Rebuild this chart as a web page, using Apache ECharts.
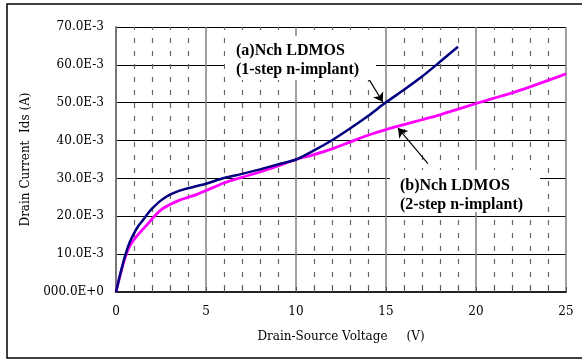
<!DOCTYPE html>
<html>
<head>
<meta charset="utf-8">
<script src="https://cdn.jsdelivr.net/npm/echarts@6/dist/echarts.min.js"></script>
<style>
  html, body { margin: 0; padding: 0; background: #fff; }
  #chart { width: 582px; height: 360px; }
</style>
</head>
<body>
<div id="chart"></div>
<script>
// Drain-source voltage (V) and drain current (mA)
const voltsA = [0, 0.25, 0.5, 0.75, 1, 1.25, 1.5, 1.75, 2, 2.5, 3, 3.5, 4, 4.5, 5, 6, 7, 8, 9, 10, 11, 12, 13, 14, 15, 16, 17, 18, 19];
const currentA = [0, 5, 9.5, 13, 15.5, 17.5, 19, 20.6, 22, 24.2, 25.7, 26.7, 27.4, 28, 28.6, 30.1, 31.2, 32.4, 33.7, 35.0, 37.4, 40.1, 43.2, 46.5, 50.1, 53.4, 56.9, 60.8, 64.8];

const voltsB = [0, 0.25, 0.5, 0.75, 1, 1.25, 1.5, 1.75, 2, 2.5, 3, 3.5, 4, 4.5, 5, 6, 7, 8, 9, 10, 11, 12, 13, 14, 15, 16, 17, 18, 19, 20, 21, 22, 23, 24, 25];
const currentB = [0, 4.8, 9, 12, 13.8, 15.3, 16.6, 17.9, 19.3, 21.7, 23.1, 24.2, 25.0, 25.8, 26.8, 28.8, 30.3, 31.7, 33.3, 35.0, 36.3, 37.8, 39.6, 41.4, 42.9, 44.2, 45.5, 46.8, 48.3, 49.8, 51.2, 52.6, 54.2, 55.9, 57.6];

const yTickLabels = ["000.0E+0", "10.0E-3", "20.0E-3", "30.0E-3", "40.0E-3", "50.0E-3", "60.0E-3", "70.0E-3"];

const labelA = "(a)Nch LDMOS\n(1-step n-implant)";
const labelB = "(b)Nch LDMOS\n(2-step n-implant)";
// arrow ends in data units: [tail, head]
const arrowA = [[13.94, 57.1], [14.82, 50.2]];
const arrowB = [[17.33, 33.9], [15.67, 43.3]];

const pairs = (xs, ys) => xs.map((x, i) => [x, ys[i]]);
const serif = "DejaVu Serif";

const chart = echarts.init(document.getElementById("chart"), null, { renderer: "canvas" });

chart.setOption({
  animation: false,
  backgroundColor: "#fff",
  grid: { left: 116, right: 16, top: 27, bottom: 68, containLabel: false },
  xAxis: {
    type: "value",
    min: 0,
    max: 25,
    interval: 5,
    name: "Drain-Source Voltage     (V)",
    nameLocation: "middle",
    nameGap: 39,
    nameTextStyle: { fontFamily: serif, fontSize: 12, color: "#000" },
    axisLine: { lineStyle: { color: "#222", width: 2 } },
    axisTick: { show: true, inside: true, length: 5, lineStyle: { color: "#555" } },
    minorTick: { show: true, splitNumber: 5, length: 5, lineStyle: { color: "#555" } },
    axisLabel: { fontFamily: serif, fontSize: 12, color: "#000", margin: 14 },
    splitLine: { show: true, lineStyle: { color: "#808080", width: 1.5 } },
    minorSplitLine: { show: true, lineStyle: { color: "#666", width: 1.2, type: [5, 8], dashOffset: 2 } }
  },
  yAxis: {
    type: "value",
    min: 0,
    max: 70,
    interval: 10,
    name: "Drain Current  Ids (A)",
    nameLocation: "middle",
    nameGap: 78,
    nameTextStyle: { fontFamily: serif, fontSize: 12, color: "#000" },
    axisLine: { show: true, lineStyle: { color: "#777", width: 2 } },
    axisTick: { show: false },
    axisLabel: {
      fontFamily: serif,
      fontSize: 12,
      color: "#000",
      margin: 12,
      formatter: (v) => yTickLabels[Math.round(v / 10)]
    },
    splitLine: { show: true, lineStyle: { color: "#000", width: 1 } }
  },
  graphic: [
    {
      type: "rect",
      z: -10,
      shape: { x: 7, y: 4, width: 600, height: 354 },
      style: { fill: "none", stroke: "#000", lineWidth: 1.5 }
    },
    {
      type: "rect",
      z: 10,
      shape: { x: 225, y: 36, width: 151, height: 44 },
      style: { fill: "#fff" }
    },
    {
      type: "text",
      z: 11,
      x: 236,
      y: 41,
      style: { text: labelA, font: 'bold 16px "Liberation Serif"', fill: "#000", lineHeight: 19, textVerticalAlign: "top" }
    },
    {
      type: "rect",
      z: 10,
      shape: { x: 390, y: 170, width: 150, height: 42 },
      style: { fill: "#fff" }
    },
    {
      type: "text",
      z: 11,
      x: 400,
      y: 176,
      style: { text: labelB, font: 'bold 16px "Liberation Serif"', fill: "#000", lineHeight: 19, textVerticalAlign: "top" }
    }
  ],
  series: [
    {
      name: "(a)",
      type: "line",
      data: pairs(voltsA, currentA),
      showSymbol: false,
      smooth: 0.3,
      lineStyle: { color: "#000080", width: 2.5 },
      z: 3,
      markLine: {
        silent: true,
        symbol: ["none", "arrow"],
        symbolSize: 9,
        label: { show: false },
        lineStyle: { color: "#000", width: 1.2, type: "solid" },
        data: [[{ coord: arrowA[0] }, { coord: arrowA[1] }]]
      }
    },
    {
      name: "(b)",
      type: "line",
      data: pairs(voltsB, currentB),
      showSymbol: false,
      smooth: 0.3,
      lineStyle: { color: "#ff00ff", width: 2.8 },
      z: 2,
      markLine: {
        silent: true,
        symbol: ["none", "arrow"],
        symbolSize: 9,
        label: { show: false },
        lineStyle: { color: "#000", width: 1.2, type: "solid" },
        data: [[{ coord: arrowB[0] }, { coord: arrowB[1] }]]
      }
    }
  ]
});
</script>
</body>
</html>
